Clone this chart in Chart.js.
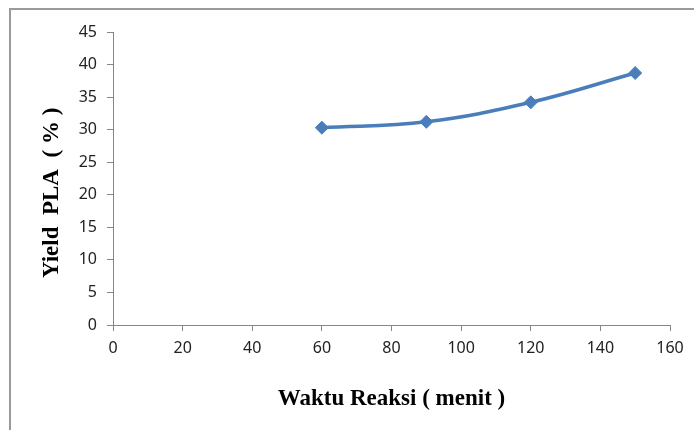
<!DOCTYPE html>
<html>
<head>
<meta charset="utf-8">
<script src="https://cdn.jsdelivr.net/npm/chart.js@4/dist/chart.umd.min.js"></script>
<style>
  html, body { margin: 0; padding: 0; background: #fff; }
  #wrap { position: relative; width: 694px; height: 430px; overflow: hidden; }
  #frame { position: absolute; left: 9px; top: 8px; width: 700px; height: 440px;
           border: 2px solid #9a9a9a; box-sizing: border-box; pointer-events: none; }
  canvas { position: absolute; left: 0; top: 0; }
</style>
</head>
<body>
<div id="wrap">
  <canvas id="c" width="694" height="430"></canvas>
  <div id="frame"></div>
</div>
<script>
// Reaction time (minutes) and PLA yield (%)
const waktu = [60, 90, 120, 150];
const yieldPLA = [30.3, 31.2, 34.2, 38.7];

const xTitle = 'Waktu Reaksi ( menit )';
// trailing spaces push the rotated title a little lower on the axis
const yTitle = 'Yield  PLA  ( % )     ';

const axisColor = '#868686';
const tickFont = { family: 'Noto Sans', size: 16 };
const titleFont = { family: 'Liberation Serif', size: 23, weight: 'bold' };

new Chart(document.getElementById('c'), {
  type: 'line',
  data: {
    datasets: [{
      data: waktu.map((t, i) => ({ x: t, y: yieldPLA[i] })),
      borderColor: '#4A7EBB',
      backgroundColor: '#4A7EBB',
      borderWidth: 3.5,
      tension: 0.4,
      pointStyle: 'rectRot',
      pointRadius: 6.5,
      pointBorderWidth: 1,
      fill: false
    }]
  },
  options: {
    responsive: false,
    animation: false,
    layout: { padding: { left: 34, top: 32, right: 24, bottom: 13 } },
    plugins: { legend: { display: false }, tooltip: { enabled: false } },
    scales: {
      x: {
        type: 'linear',
        min: 0, max: 160,
        ticks: { stepSize: 20, color: '#222', font: tickFont, padding: 8, maxRotation: 0 },
        grid: { drawOnChartArea: false, drawTicks: true, tickLength: 6, color: axisColor },
        border: { color: axisColor, width: 1 },
        title: { display: true, text: xTitle, color: '#000', font: titleFont, padding: { top: 4, bottom: 4 } },
        afterFit: s => { s.height = 430 - 13 - 325; }
      },
      y: {
        min: 0, max: 45,
        ticks: { stepSize: 5, color: '#222', font: tickFont, padding: 10 },
        grid: { drawOnChartArea: false, drawTicks: true, tickLength: 6, color: axisColor },
        border: { color: axisColor, width: 1 },
        title: { display: true, text: yTitle, color: '#000', font: titleFont, padding: { top: 4, bottom: 4 } },
        afterFit: s => { s.width = 113 - 34; }
      }
    }
  }
});
</script>
</body>
</html>
